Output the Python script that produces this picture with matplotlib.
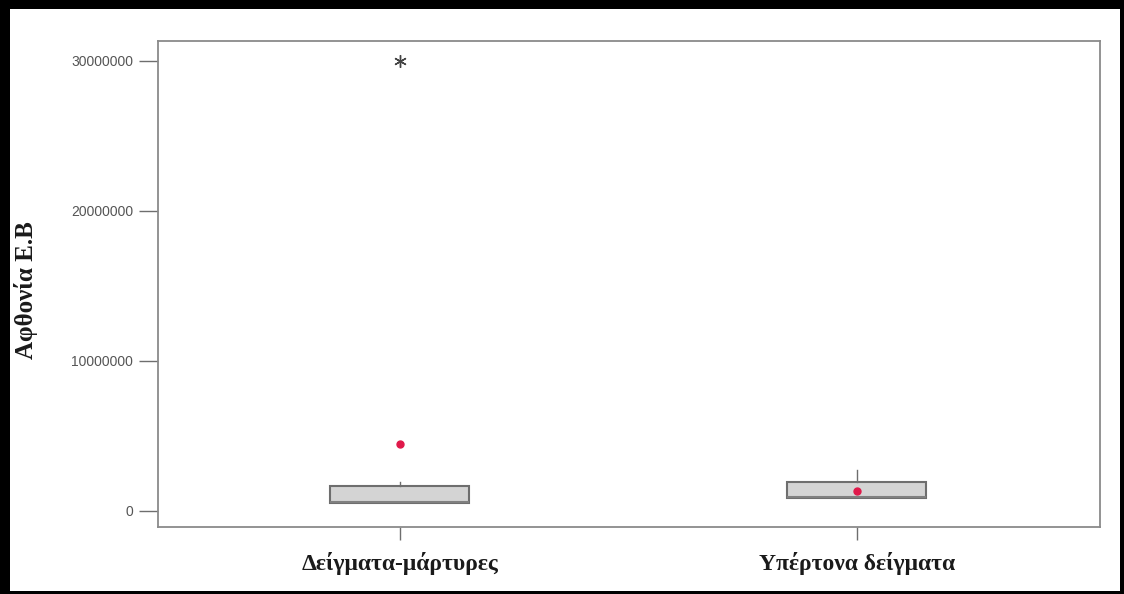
import matplotlib
matplotlib.use("Agg")
import matplotlib.pyplot as plt
from matplotlib.patches import Rectangle
from matplotlib.ticker import FixedLocator

categories = ["Δείγματα-μάρτυρες", "Υπέρτονα δείγματα"]
q1 = [530000, 870000]
med = [620000, 900000]
q3 = [1670000, 1930000]
whislo = [530000, 870000]
whishi = [1930000, 2730000]
means = [4470000, 1330000]
outliers = [[30000000], []]
yticks = [0, 10000000, 20000000, 30000000]

fig = plt.figure(figsize=(11.24, 5.94), dpi=100)
ax = fig.add_axes([158/1124, 67/594, (1100-158)/1124, (527-41)/594])

stats = []
for i in range(len(categories)):
    stats.append(dict(label=categories[i], q1=q1[i], med=med[i], q3=q3[i],
                      whislo=whislo[i], whishi=whishi[i], mean=means[i],
                      fliers=outliers[i]))

ax.bxp(stats, positions=[1, 2], widths=0.304, patch_artist=True,
       showmeans=True, showcaps=False,
       boxprops=dict(facecolor="#d4d4d4", edgecolor="#6e6e6e", linewidth=1.5),
       medianprops=dict(color="#808080", linewidth=1.5),
       whiskerprops=dict(color="#6e6e6e", linewidth=1.0),
       meanprops=dict(marker="o", markerfacecolor="#e0194a", markeredgecolor="#e0194a", markersize=5),
       flierprops=dict(marker=(6, 2, 0), markerfacecolor="#444444", markeredgecolor="#444444",
                       markersize=9, markeredgewidth=1.0))

ax.set_xlim(0.4705, 2.532)
ax.set_ylim(-1070000, 31330000)
ax.yaxis.set_major_locator(FixedLocator(yticks))
ax.set_yticklabels([str(v) for v in yticks], fontsize=10, color="#555555",
                   family="Liberation Sans")
ax.set_xticks([1, 2])
ax.set_xticklabels(categories, fontsize=17, fontweight="bold",
                   family="Liberation Serif", color="#1a1a1a")
ax.tick_params(axis="y", length=14, width=1.0, color="#6e6e6e", pad=4)
ax.tick_params(axis="x", length=9, width=1.0, color="#6e6e6e", pad=9)
for s in ax.spines.values():
    s.set_color("#8a8a8a")
    s.set_linewidth(1.3)

fig.text(26/1124, 1 - 290/594, "Αφθονία Ε.Β", rotation=90, ha="center", va="center",
         fontsize=18, fontweight="bold", family="Liberation Serif", color="#1a1a1a")

fw, fh = 1124, 594
for (x, y, w, h) in [(0, 0, 10, fh), (0, fh-9, fw, 9), (fw-4, 0, 4, fh), (0, 0, fw, 3)]:
    fig.patches.append(Rectangle((x/fw, y/fh), w/fw, h/fh, transform=fig.transFigure,
                                 facecolor="black", edgecolor="none", zorder=10))

fig.savefig("out.png", dpi=100)
